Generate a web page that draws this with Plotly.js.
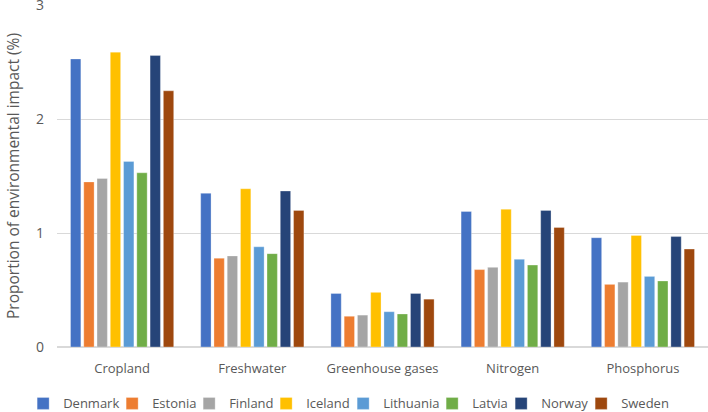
<!DOCTYPE html>
<html><head><meta charset="utf-8">
<script src="https://cdn.plot.ly/plotly-3.0.1.min.js"></script>
<style>html,body{margin:0;padding:0;background:#fff}#chart{width:708px;height:412px}</style>
</head><body><div id="chart"></div>
<script>
const categories = ["Cropland", "Freshwater", "Greenhouse gases", "Nitrogen", "Phosphorus"];
const countries = ["Denmark", "Estonia", "Finland", "Iceland", "Lithuania", "Latvia", "Norway", "Sweden"];
const colors = ["#4472C4", "#ED7D31", "#A5A5A5", "#FFC000", "#5B9BD5", "#70AD47", "#264478", "#9E480E"];
const denmark   = [2.53, 1.35, 0.47, 1.19, 0.96];
const estonia   = [1.45, 0.78, 0.27, 0.68, 0.55];
const finland   = [1.48, 0.80, 0.28, 0.70, 0.57];
const iceland   = [2.59, 1.39, 0.48, 1.21, 0.98];
const lithuania = [1.63, 0.88, 0.31, 0.77, 0.62];
const latvia    = [1.53, 0.82, 0.29, 0.72, 0.58];
const norway    = [2.56, 1.37, 0.47, 1.20, 0.97];
const sweden    = [2.25, 1.20, 0.42, 1.05, 0.86];
const series = [denmark, estonia, finland, iceland, lithuania, latvia, norway, sweden];

const font = "Open Sans, Lato, sans-serif";
const legendFontSize = 13;
const ctx = document.createElement("canvas").getContext("2d");
ctx.font = legendFontSize + "px 'Open Sans'";
function textW(s) { return ctx.measureText(s).width; }

const data = series.map((vals, i) => ({
  type: "bar", name: countries[i], x: categories, y: vals,
  marker: {color: colors[i], line: {color: "rgba(255,255,255,0.6)", width: 0.5}},
  legendwidth: Math.round(textW(countries[i]) - (i === series.length - 1 ? -2 : 12))
}));
const layout = {
  width: 708, height: 412,
  margin: {l: 57, r: 0, t: 5, b: 65, autoexpand: false},
  paper_bgcolor: "#fff", plot_bgcolor: "#fff",
  barmode: "group", bargap: 0.185, bargroupgap: 0.22,
  font: {family: font, color: "#595959", size: 13},
  xaxis: {showgrid: false, showline: false, ticks: "", ticklabelstandoff: 12,
          tickfont: {size: 13, color: "#595959"}},
  yaxis: {range: [0, 3.004], tickvals: [0, 1, 2, 3], showgrid: true, gridcolor: "#D9D9D9", gridwidth: 1.3,
          zeroline: true, zerolinecolor: "#D9D9D9", zerolinewidth: 1.3, ticklabeloverflow: "allow",
          tickfont: {size: 14, color: "#595959"}, ticklabelstandoff: 12,
          title: {text: "Proportion of environmental impact (%)", font: {size: 15.5, color: "#595959"}, standoff: 12}},
  legend: {orientation: "h", x: -0.052, xanchor: "left", y: -0.165, yanchor: "middle",
           font: {size: legendFontSize, color: "#595959"}, traceorder: "normal",
           bgcolor: "rgba(0,0,0,0)"},
  showlegend: true
};
Plotly.newPlot("chart", data, layout, {displayModeBar: false, staticPlot: true});
</script></body></html>
